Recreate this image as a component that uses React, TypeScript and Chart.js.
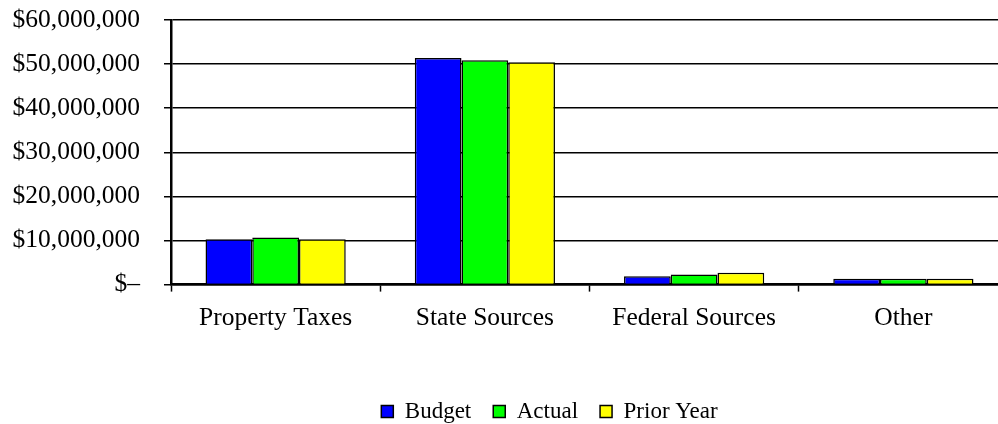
import React, { useEffect, useRef } from "react";
import { Chart, registerables } from "chart.js";

Chart.register(...registerables);

const categories = ["Property Taxes", "State Sources", "Federal Sources", "Other"];
const seriesNames = ["Budget", "Actual", "Prior Year"];
const budget = [10300000, 51400000, 1900000, 1300000];
const actual = [10700000, 50900000, 2300000, 1300000];
const priorYear = [10300000, 50400000, 2700000, 1300000];
const seriesColors = ["#0000FF", "#00FF00", "#FFFF00"];
const yTickValues = [0, 10000000, 20000000, 30000000, 40000000, 50000000, 60000000];

const FONT = "'Liberation Serif', 'Times New Roman', serif";

const legendShift = {
  id: "legendShift",
  afterLayout(chart: any) {
    const lg = chart.legend;
    if (!lg) return;
    const w = lg.right - lg.left;
    const cx = 549.5;
    lg.left = cx - w / 2;
    lg.right = cx + w / 2;
    const dy = 9;
    lg.top += dy;
    lg.bottom += dy;
  },
};

export default function App() {
  const ref = useRef<HTMLCanvasElement | null>(null);
  useEffect(() => {
    document.body.style.margin = "0";
    const ctx = ref.current!;
    const values = [budget, actual, priorYear];
    const chart = new Chart(ctx, {
      type: "bar",
      data: {
        labels: categories,
        datasets: seriesNames.map((name, i) => ({
          label: name,
          data: values[i],
          backgroundColor: seriesColors[i],
          borderColor: "#000000",
          borderWidth: 1.5,
          categoryPercentage: 0.67,
          barPercentage: 1.0,
        })),
      },
      plugins: [legendShift],
      options: {
        responsive: false,
        animation: false,
        devicePixelRatio: 1,
        layout: { padding: { top: 20, right: 0, left: 0, bottom: 0 } },
        plugins: {
          tooltip: { enabled: false },
          legend: {
            position: "bottom",
            labels: {
              boxWidth: 12,
              boxHeight: 12,
              padding: 22,
              color: "#000",
              font: { family: FONT, size: 23 },
            },
          },
        },
        scales: {
          x: {
            offset: true,
            grid: {
              offset: true,
              drawOnChartArea: false,
              drawTicks: true,
              tickLength: 7,
              tickColor: "#000",
              tickWidth: 1.5,
            },
            border: { display: true, color: "#000", width: 2.5 },
            ticks: {
              color: "#000",
              padding: 11,
              maxRotation: 0,
              font: { family: FONT, size: 25.5 },
            },
            afterFit(scale: any) {
              scale.height = 84.4;
            },
          },
          y: {
            min: 0,
            max: 60000000,
            afterBuildTicks(scale: any) {
              scale.ticks = yTickValues.map((v) => ({ value: v }));
            },
            grid: {
              color: "#000",
              lineWidth: 1.5,
              drawTicks: true,
              tickLength: 7,
              tickColor: "#000",
              tickWidth: 1.5,
            },
            border: { display: true, color: "#000", width: 2.5 },
            ticks: {
              color: "#000",
              padding: 24,
              font: { family: FONT, size: 25.5 },
              callback: (v: any) =>
                Number(v) === 0 ? "$\u2013" : "$" + Number(v).toLocaleString("en-US"),
            },
            afterFit(scale: any) {
              scale.width = 171;
              scale.paddingTop = 0;
              scale.paddingBottom = 0;
            },
          },
        },
      },
    });
    return () => chart.destroy();
  }, []);
  return (
    <div style={{ position: "absolute", left: 0, top: 0, width: 998, height: 424, overflow: "hidden", background: "#fff" }}>
      <canvas ref={ref} width={1008} height={424} style={{ display: "block", width: 1008, height: 424 }} />
    </div>
  );
}
